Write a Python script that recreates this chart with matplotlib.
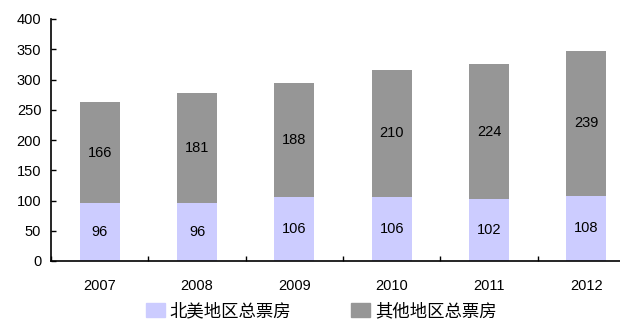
import numpy as np
import matplotlib.pyplot as plt
from matplotlib.patches import Patch

## données
years = ['2007', '2008', '2009', '2010', '2011', '2012']
na_box = [96, 96, 106, 106, 102, 108]
other_box = [166, 181, 188, 210, 224, 239]
series_names = ['北美地区总票房', '其他地区总票房']
col_na = '#CCCCFF'
col_other = '#969696'

plt.rcParams['font.family'] = ['Liberation Sans', 'Noto Sans CJK SC', 'DejaVu Sans']

fig = plt.figure(figsize=(6.2, 3.32), dpi=100)
ax = fig.add_axes([51/620, 71/332, 584/620, 242/332])

x = np.arange(len(years))
w = 0.41
ax.bar(x, na_box, w, color=col_na)
ax.bar(x, other_box, w, bottom=na_box, color=col_other)

fs = 10.5
for i in range(len(years)):
    ax.text(x[i], na_box[i]/2, str(na_box[i]), ha='center', va='center', fontsize=fs)
    ax.text(x[i], na_box[i] + other_box[i]/2, str(other_box[i]), ha='center', va='center', fontsize=fs)

ax.set_xlim(-0.5, len(years) - 0.5)
ax.set_ylim(0, 400)
ax.set_yticks(np.arange(0, 401, 50))
ax.set_xticks(x)
ax.set_xticklabels(years)
ax.set_xticks(np.arange(-0.5, len(years)), minor=True)
ax.tick_params(axis='x', which='major', length=0, pad=13, labelsize=fs)
ax.tick_params(axis='x', which='minor', direction='in', length=3.5, width=1)
ax.tick_params(axis='y', direction='in', length=3.5, width=1, pad=7, labelsize=fs)
for s in ['top', 'right']:
    ax.spines[s].set_visible(False)
for s in ['left', 'bottom']:
    ax.spines[s].set_linewidth(1.2)

handles = [Patch(color=col_na), Patch(color=col_other)]
fig.legend(handles, series_names, loc='center', bbox_to_anchor=(321/620, 1 - 311/332),
           ncol=2, frameon=False, handlelength=1.1, handleheight=0.8,
           handletextpad=0.3, columnspacing=3.4, prop={'family': ['Noto Sans CJK SC'], 'size': 12.5})

fig.savefig('out.png', dpi=100)
